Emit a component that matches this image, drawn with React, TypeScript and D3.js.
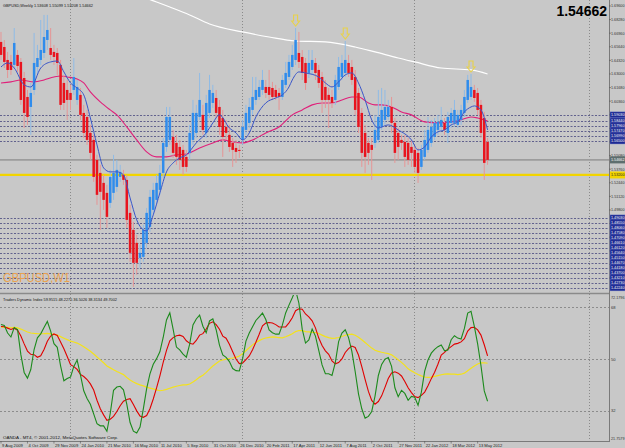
import React from "react";
import * as d3 from "d3";

const W = 625;
const H = 448;

// ---- weekly GBPUSD bars (9 Aug 2009 .. 3 Jun 2012) ----
const opens = [
  1.6611, 1.6562, 1.6436, 1.6417, 1.6388, 1.6485, 1.6417, 1.6261, 1.6077, 1.598,
  1.6145, 1.6368, 1.6436, 1.6504, 1.663, 1.6552, 1.6514, 1.6504, 1.6388, 1.6213,
  1.6145, 1.6116, 1.6145, 1.6048, 1.6097, 1.5922, 1.5883, 1.5728, 1.566, 1.5466,
  1.534, 1.5243, 1.5146, 1.5049, 1.5146, 1.5204, 1.5301, 1.5321, 1.5272, 1.4952,
  1.4787, 1.4661, 1.4515, 1.4525, 1.4661, 1.4816, 1.4981, 1.5078, 1.5175, 1.534,
  1.5592, 1.566, 1.5689, 1.5631, 1.5592, 1.5563, 1.5495, 1.5534, 1.566, 1.5728,
  1.5883, 1.5903, 1.5728, 1.5922, 1.6019, 1.6067, 1.598, 1.5873, 1.5786, 1.5709,
  1.5631, 1.5582, 1.5563, 1.566, 1.5757, 1.5825, 1.5951, 1.6048, 1.6077, 1.6145,
  1.6174, 1.6174, 1.6164, 1.6145, 1.6116, 1.6077, 1.6194, 1.6271, 1.6368, 1.6436,
  1.6504, 1.6465, 1.6407, 1.631, 1.6339, 1.6407, 1.6339, 1.6271, 1.6174, 1.6097,
  1.6077, 1.6048, 1.6174, 1.6271, 1.631, 1.6407, 1.6368, 1.6271, 1.6116, 1.5922,
  1.5728, 1.5631, 1.5612, 1.5631, 1.566, 1.5786, 1.5854, 1.5883, 1.598, 1.5825,
  1.5728, 1.566, 1.5641, 1.5631, 1.5592, 1.5563, 1.5534, 1.5398, 1.5495, 1.5563,
  1.5631, 1.5689, 1.5757, 1.5786, 1.5825, 1.5728, 1.5825, 1.5825, 1.5806, 1.5854,
  1.5922, 1.6048, 1.6077, 1.6145, 1.6116, 1.6, 1.5873, 1.5641,
];
const highs = [
  1.6708, 1.663, 1.6514, 1.6485, 1.6746, 1.6533, 1.6455, 1.632, 1.6145, 1.6213,
  1.6698, 1.6582, 1.6824, 1.6873, 1.6873, 1.6746, 1.6582, 1.6552, 1.6436, 1.6291,
  1.6242, 1.6194, 1.6455, 1.6242, 1.6164, 1.6, 1.5951, 1.5806, 1.5709, 1.5515,
  1.5418, 1.5321, 1.5224, 1.5369, 1.5515, 1.5466, 1.5418, 1.5369, 1.5321, 1.503,
  1.4865, 1.4739, 1.4642, 1.4836, 1.5, 1.5175, 1.5243, 1.5321, 1.5418, 1.5679,
  1.598, 1.598, 1.5757, 1.5709, 1.566, 1.5612, 1.5563, 1.5806, 1.6048, 1.6,
  1.631, 1.6, 1.6097, 1.6291, 1.6194, 1.6145, 1.6048, 1.5951, 1.5854, 1.5806,
  1.5679, 1.566, 1.5612, 1.5854, 1.6, 1.6067, 1.6271, 1.6271, 1.6242, 1.6339,
  1.6242, 1.6339, 1.6223, 1.6194, 1.6164, 1.6291, 1.6417, 1.6485, 1.6582, 1.6746,
  1.6708, 1.6533, 1.6455, 1.6533, 1.6533, 1.6455, 1.6388, 1.632, 1.6242, 1.6164,
  1.6145, 1.6291, 1.6465, 1.6485, 1.662, 1.6485, 1.6436, 1.6339, 1.6164, 1.597,
  1.5806, 1.5679, 1.5679, 1.5903, 1.6145, 1.6164, 1.6145, 1.6048, 1.6077, 1.5873,
  1.5776, 1.5709, 1.5709, 1.5679, 1.566, 1.5612, 1.5582, 1.5612, 1.5757, 1.5883,
  1.5854, 1.5873, 1.5903, 1.598, 1.5873, 1.5932, 1.597, 1.6048, 1.5951, 1.6,
  1.6145, 1.6291, 1.63, 1.6194, 1.6164, 1.6048, 1.5932, 1.5679,
];
const lows = [
  1.6436, 1.6358, 1.6261, 1.6291, 1.6358, 1.632, 1.6, 1.5776, 1.5806, 1.5709,
  1.6097, 1.6291, 1.6388, 1.6455, 1.6533, 1.6436, 1.6388, 1.6291, 1.5951, 1.5951,
  1.5854, 1.5951, 1.6097, 1.6, 1.5854, 1.5679, 1.5612, 1.5466, 1.5253, 1.503,
  1.4787, 1.4981, 1.4806, 1.5, 1.5078, 1.5156, 1.5253, 1.5224, 1.4806, 1.4477,
  1.4234, 1.4351, 1.4418, 1.4477, 1.4612, 1.4768, 1.4933, 1.503, 1.5127, 1.5291,
  1.5544, 1.5612, 1.5485, 1.5418, 1.5369, 1.5321, 1.535, 1.5466, 1.5612, 1.5679,
  1.5854, 1.5709, 1.5679, 1.5873, 1.597, 1.5873, 1.5709, 1.5495, 1.566, 1.5544,
  1.5398, 1.5437, 1.5485, 1.5612, 1.5709, 1.5776, 1.5903, 1.6, 1.6048, 1.6097,
  1.6067, 1.6048, 1.6048, 1.6048, 1.5951, 1.6048, 1.6164, 1.6242, 1.6339, 1.6388,
  1.6358, 1.6242, 1.6145, 1.6261, 1.6291, 1.6242, 1.6164, 1.5922, 1.597, 1.5776,
  1.597, 1.6, 1.6145, 1.6242, 1.6271, 1.6271, 1.6194, 1.5903, 1.5728, 1.5398,
  1.534, 1.5418, 1.5272, 1.5582, 1.5631, 1.5757, 1.5806, 1.5854, 1.5728, 1.5437,
  1.5466, 1.5563, 1.5398, 1.5418, 1.5398, 1.534, 1.5243, 1.5369, 1.5466, 1.5534,
  1.5592, 1.566, 1.5709, 1.5757, 1.5709, 1.5631, 1.5776, 1.5786, 1.5776, 1.5806,
  1.5883, 1.6019, 1.6048, 1.6029, 1.5903, 1.5679, 1.5272, 1.5418,
];
const closes = [
  1.6485, 1.6417, 1.6339, 1.6339, 1.6601, 1.6378, 1.6048, 1.5922, 1.5883, 1.6116,
  1.6407, 1.6455, 1.6533, 1.6659, 1.6727, 1.6485, 1.6465, 1.6407, 1.6, 1.6019,
  1.6048, 1.6048, 1.6271, 1.6174, 1.5903, 1.5728, 1.566, 1.5534, 1.5301, 1.5127,
  1.5156, 1.5078, 1.4913, 1.5301, 1.534, 1.5369, 1.535, 1.5272, 1.4884, 1.4564,
  1.4467, 1.4467, 1.4564, 1.4787, 1.4952, 1.5107, 1.5175, 1.5243, 1.534, 1.5631,
  1.5883, 1.5883, 1.5534, 1.5495, 1.5466, 1.5398, 1.5398, 1.5728, 1.5922, 1.5922,
  1.6048, 1.5757, 1.6019, 1.6145, 1.6116, 1.5922, 1.5786, 1.5689, 1.5728, 1.5592,
  1.5563, 1.5544, 1.5553, 1.5786, 1.5922, 1.598, 1.6077, 1.6145, 1.6174, 1.6242,
  1.6116, 1.6097, 1.6077, 1.6077, 1.6077, 1.6242, 1.631, 1.6417, 1.6485, 1.663,
  1.6417, 1.631, 1.6213, 1.6407, 1.6436, 1.631, 1.6213, 1.6048, 1.6048, 1.6048,
  1.6019, 1.6242, 1.6368, 1.6407, 1.6436, 1.631, 1.6242, 1.5951, 1.5786, 1.5534,
  1.5495, 1.5534, 1.5563, 1.5757, 1.5883, 1.5951, 1.598, 1.598, 1.5825, 1.5534,
  1.5592, 1.5631, 1.5495, 1.5466, 1.5534, 1.5398, 1.534, 1.5563, 1.566, 1.5757,
  1.5786, 1.5825, 1.5835, 1.5854, 1.5757, 1.5883, 1.5922, 1.5951, 1.5903, 1.5951,
  1.6077, 1.6242, 1.6174, 1.6067, 1.5951, 1.5728, 1.5437, 1.54662,
];

// ---- moving averages: [bar index, price] ----
const blueMA: [number, number][] = [
  [0, 1.6368], [2, 1.6407], [4, 1.6358], [7, 1.6194], [9, 1.6174], [12, 1.6358],
  [15, 1.6417], [17, 1.6426], [19, 1.632], [21, 1.6213], [23, 1.6164], [25, 1.6097],
  [27, 1.5873], [29, 1.5612], [31, 1.5388], [33, 1.535], [35, 1.535], [37, 1.5321],
  [39, 1.5097], [41, 1.4884], [43, 1.4787], [44, 1.4777], [46, 1.4933], [48, 1.5146],
  [50, 1.535], [52, 1.5437], [54, 1.5485], [56, 1.5515], [59, 1.5631], [62, 1.5728],
  [64, 1.5825], [66, 1.5903], [69, 1.5776], [71, 1.5728], [73, 1.566], [75, 1.5728],
  [77, 1.5883], [80, 1.6019], [83, 1.6067], [85, 1.6097], [87, 1.6174], [88, 1.6242],
  [90, 1.632], [92, 1.631], [96, 1.6271], [98, 1.6213], [100, 1.6174], [102, 1.6223],
  [104, 1.6291], [106, 1.631], [108, 1.6213], [110, 1.6048], [112, 1.5854], [114, 1.5776],
  [117, 1.5806], [120, 1.5757], [124, 1.566], [126, 1.5563], [128, 1.5592], [130, 1.5689],
  [132, 1.5738], [134, 1.5757], [136, 1.5806], [138, 1.5835], [140, 1.5932], [142, 1.598],
  [143, 1.599], [145, 1.5951], [147, 1.5757],
];
const pinkMA: [number, number][] = [
  [0, 1.6213], [3, 1.6223], [6, 1.6242], [10, 1.6223], [13, 1.6242], [16, 1.6271],
  [18, 1.6281], [20, 1.6271], [23, 1.6252], [25, 1.6213], [27, 1.6126], [30, 1.6029],
  [33, 1.5951], [35, 1.5903], [38, 1.5786], [41, 1.566], [44, 1.5544], [47, 1.5495],
  [50, 1.5495], [53, 1.5515], [56, 1.5524], [60, 1.5582], [64, 1.5631], [67, 1.566],
  [70, 1.5641], [73, 1.5631], [76, 1.566], [80, 1.5728], [84, 1.5786], [88, 1.5903],
  [91, 1.5951], [94, 1.6], [97, 1.6019], [100, 1.6019], [103, 1.6048], [106, 1.6077],
  [108, 1.6077], [111, 1.6019], [113, 1.6], [115, 1.6], [118, 1.598], [121, 1.5932],
  [124, 1.5903], [128, 1.5835], [132, 1.5825], [136, 1.5835], [139, 1.5854], [142, 1.5883],
  [144, 1.5873], [146, 1.5854], [147, 1.5844],
];
const whiteMA: [number, number][] = [
  [43, 1.7045], [47, 1.6999], [51, 1.695], [57, 1.6873], [63, 1.6785], [73, 1.6708],
  [81, 1.6659], [89, 1.662], [98, 1.6611], [107, 1.6562], [113, 1.6514], [120, 1.6455],
  [125, 1.6417], [133, 1.6358], [142, 1.6339], [147, 1.63],
];

const arrowBars = [89, 104, 142];
const dottedLevels = [
  1.5903, 1.5844, 1.5796, 1.5747, 1.5699, 1.565,
  1.4903, 1.4855, 1.4806, 1.4758, 1.4709, 1.4661, 1.4612, 1.4564, 1.4515, 1.4467,
  1.4418, 1.437, 1.4321, 1.4273, 1.4224,
];
const supportLevel = 1.532;
const bidPrice = 1.54662;
const priceTicks = [
  1.696, 1.6828, 1.6696, 1.6564, 1.6432, 1.63, 1.6168, 1.6036, 1.5904, 1.5772, 1.564,
  1.5508, 1.5376, 1.5244, 1.5112, 1.498, 1.4848, 1.4716, 1.4584, 1.4452, 1.432,
];
const timeLabels = [
  "9 Aug 2009", "4 Oct 2009", "29 Nov 2009", "24 Jan 2010", "21 Mar 2010", "16 May 2010",
  "11 Jul 2010", "5 Sep 2010", "31 Oct 2010", "26 Dec 2010", "20 Feb 2011", "17 Apr 2011",
  "12 Jun 2011", "7 Aug 2011", "2 Oct 2011", "27 Nov 2011", "22 Jan 2012", "18 Mar 2012",
  "13 May 2012",
];
const timeLabelStep = 8;
const tdiLevels = [68, 50, 32];
const tdiRange = [21.7579, 72.1796];
// Traders Dynamic Index settings, with the RSI state carried in from the weeks before the first bar
const rsiPeriod = 13;
const fastLen = 2;
const signalLen = 7;
const baseLen = 34;
const priorAvgGain = 0.0088;
const priorAvgLoss = 0.0052;
const priorRsiLevel = 61;

function rsi(c: number[], n: number) {
  const out: number[] = [];
  let ag = priorAvgGain, al = priorAvgLoss;
  for (let i = 0; i < c.length; i++) {
    if (i > 0) {
      const ch = c[i] - c[i - 1];
      ag = (ag * (n - 1) + Math.max(ch, 0)) / n;
      al = (al * (n - 1) + Math.max(-ch, 0)) / n;
    }
    out.push(100 - 100 / (1 + ag / al));
  }
  return out;
}
function sma(a: number[], n: number) {
  return a.map((_, i) => {
    let s = 0;
    for (let k = i - n + 1; k <= i; k++) s += k >= 0 ? a[k] : priorRsiLevel;
    return s / n;
  });
}

export default function App() {
  const N = closes.length;
  const barStep = 3.31;
  const plotR = 609;
  const mainB = 292;
  const indT = 295;
  const indB = 441;

  const x = d3.scaleLinear().domain([0, N - 1]).range([1, 1 + (N - 1) * barStep]);
  const y = d3.scaleLinear().domain([1.4184, 1.7018]).range([mainB, 0]);
  const yi = d3.scaleLinear().domain(tdiRange).range([440.5, indT]);

  const maLine = d3.line<[number, number]>().x((d) => x(d[0])).y((d) => y(d[1])).curve(d3.curveMonotoneX);

  const r = rsi(closes, rsiPeriod);
  const green = sma(r, fastLen);
  const red = sma(r, signalLen);
  const yellow = sma(r, baseLen);
  const tdiLine = d3.line<number>().x((_, i) => x(i)).y((d) => yi(d)).curve(d3.curveLinear);

  const gridX = [70, 242, 414, 589];
  const font = "Liberation Sans, Arial, sans-serif";
  const axisFont = 4.1;

  return (
    <svg width={W} height={H} style={{ position: "absolute", left: 0, top: 0 }} fontFamily={font}>
      <defs>
        <clipPath id="cMain"><rect x={0} y={0} width={plotR} height={mainB} /></clipPath>
        <clipPath id="cInd"><rect x={0} y={indT} width={plotR} height={indB - indT} /></clipPath>
      </defs>
      <rect x={0} y={0} width={W} height={H} fill="#c8c8c8" />

      {gridX.map((gx) => (
        <line key={gx} x1={gx + 0.5} x2={gx + 0.5} y1={0} y2={indB} stroke="#8a8a8a" strokeDasharray="1,2" />
      ))}

      <g clipPath="url(#cMain)">
        {dottedLevels.map((p) => (
          <line key={p} x1={0} x2={plotR} y1={Math.round(y(p)) + 0.5} y2={Math.round(y(p)) + 0.5} stroke="#46467e" strokeDasharray="2,1.5" strokeWidth={0.8} />
        ))}
        <line x1={0} x2={plotR} y1={y(bidPrice)} y2={y(bidPrice)} stroke="#9c9c9c" strokeWidth={1.6} />
        <line x1={0} x2={plotR} y1={y(supportLevel)} y2={y(supportLevel)} stroke="#f2d400" strokeWidth={2.2} />

        <path d={maLine(whiteMA) || ""} fill="none" stroke="#ffffff" strokeWidth={1.2} />
        <path d={maLine(pinkMA) || ""} fill="none" stroke="#e0207a" strokeWidth={1.1} />

        {closes.map((c, i) => {
          const o = opens[i];
          const up = c >= o;
          const cx = x(i);
          const top = y(Math.max(o, c));
          const bot = y(Math.min(o, c));
          return (
            <g key={i}>
              <line x1={cx} x2={cx} y1={y(highs[i])} y2={y(lows[i])} stroke={up ? "#8fbbe6" : "#e69595"} strokeWidth={1} />
              <rect x={cx - 1.25} width={2.5} y={top} height={Math.max(1, bot - top)} fill={up ? "#2f8cec" : "#e8141e"} />
            </g>
          );
        })}

        <path d={maLine(blueMA) || ""} fill="none" stroke="#3a56c8" strokeWidth={1} />

        {arrowBars.map((i) => {
          const ax = x(i);
          const ay = y(highs[i]) - 2;
          const d = `M${ax},${ay} L${ax - 4},${ay - 5} L${ax - 2},${ay - 5} L${ax - 2},${ay - 11} L${ax + 2},${ay - 11} L${ax + 2},${ay - 5} L${ax + 4},${ay - 5} Z`;
          return <path key={i} d={d} fill="none" stroke="#e8d24a" strokeWidth={1.1} />;
        })}

        <text x={3} y={282} fontSize={12} textLength={67} lengthAdjust="spacingAndGlyphs" fill="#eaa24e">GBPUSD,W1</text>
      </g>

      <text x={3} y={6.5} fontSize={4.3} textLength={90} lengthAdjust="spacingAndGlyphs" fill="#111">GBPUSD,Weekly  1.53608 1.55099 1.53208 1.54662</text>
      <text x={607} y={15.5} fontSize={14} fontWeight="bold" textAnchor="end" fill="#000">1.54662</text>

      <line x1={plotR + 0.5} x2={plotR + 0.5} y1={0} y2={indB} stroke="#7a7a7a" />
      <line x1={0} x2={plotR} y1={mainB + 1.5} y2={mainB + 1.5} stroke="#8a8a8a" strokeWidth={1.5} />
      <line x1={0} x2={plotR + 1} y1={indB + 0.5} y2={indB + 0.5} stroke="#7a7a7a" />

      {priceTicks.map((p) => (
        <g key={p}>
          <line x1={plotR} x2={plotR + 2} y1={y(p)} y2={y(p)} stroke="#555" strokeWidth={0.6} />
          <text x={611} y={y(p) + 1.5} fontSize={axisFont} textLength={13.5} lengthAdjust="spacingAndGlyphs" fill="#333">{p.toFixed(5)}</text>
        </g>
      ))}
      {dottedLevels.map((p) => (
        <g key={"b" + p}>
          <rect x={610} y={y(p) - 3} width={15} height={6} fill="#1e2a92" stroke="#6a76c8" strokeWidth={0.4} />
          <text x={611} y={y(p) + 1.4} fontSize={3.6} textLength={13.5} lengthAdjust="spacingAndGlyphs" fill="#fff">{p.toFixed(5)}</text>
        </g>
      ))}
      <rect x={610} y={y(supportLevel) - 3.5} width={15} height={7} fill="#f2d400" />
      <text x={611} y={y(supportLevel) + 1.5} fontSize={axisFont} textLength={13.5} lengthAdjust="spacingAndGlyphs" fill="#222">{supportLevel.toFixed(5)}</text>
      <rect x={610} y={y(bidPrice) - 3.5} width={15} height={7} fill="#5e6e6e" />
      <text x={611} y={y(bidPrice) + 1.5} fontSize={axisFont} textLength={13.5} lengthAdjust="spacingAndGlyphs" fill="#fff">{bidPrice.toFixed(5)}</text>

      <g clipPath="url(#cInd)">
        {tdiLevels.map((v) => (
          <line key={v} x1={0} x2={plotR} y1={Math.round(yi(v)) + 0.5} y2={Math.round(yi(v)) + 0.5} stroke="#7c7c7c" strokeDasharray="2,2" strokeWidth={0.8} />
        ))}
        <path d={tdiLine(yellow) || ""} fill="none" stroke="#f4e21a" strokeWidth={1.2} />
        <path d={tdiLine(red) || ""} fill="none" stroke="#e00000" strokeWidth={1.1} />
        <path d={tdiLine(green) || ""} fill="none" stroke="#1c8a1c" strokeWidth={1.1} />
      </g>
      <text x={3} y={301} fontSize={4.3} textLength={114} lengthAdjust="spacingAndGlyphs" fill="#111">Traders Dynamic Index 59.9515 48.2275 36.5026 38.3134 49.7002</text>
      <text x={3} y={438.5} fontSize={4.3} textLength={115} lengthAdjust="spacingAndGlyphs" fill="#111">OANDA - MT4, © 2001-2012, MetaQuotes Software Corp.</text>
      {[tdiRange[1], ...tdiLevels, tdiRange[0]].map((v, k) => (
        <text key={k} x={611} y={yi(v) + (k === 0 ? 3.5 : k === 4 ? -0.8 : 1.5)} fontSize={axisFont} fill="#333"
          textLength={Number.isInteger(v) ? undefined : 13.5} lengthAdjust="spacingAndGlyphs">
          {Number.isInteger(v) ? String(v) : v.toFixed(4)}
        </text>
      ))}

      {timeLabels.map((t, k) => {
        const tx = x(k * timeLabelStep);
        return (
          <g key={t}>
            <line x1={tx} x2={tx} y1={indB} y2={indB + 2.5} stroke="#555" strokeWidth={0.6} />
            <text x={tx + 1} y={446.5} fontSize={axisFont} fill="#222">{t}</text>
          </g>
        );
      })}
    </svg>
  );
}
